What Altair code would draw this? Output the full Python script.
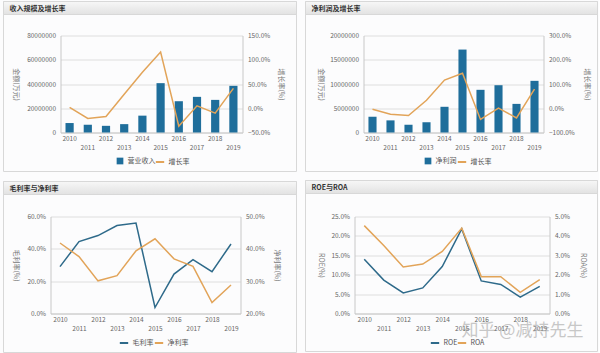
import altair as alt
import pandas as pd

# ---------------- data ----------------
years = [str(y) for y in range(2010, 2020)]
revenue = [7800000, 6400000, 5500000, 6900000, 13900000, 40700000, 25800000, 29400000, 26900000, 38500000]
revenue_growth = [2, -21, -17, 29, 74, 116, -37, 5, -10, 41]
profit = [3250000, 2500000, 1600000, 2100000, 5300000, 17100000, 8800000, 9750000, 5900000, 10650000]
profit_growth = [-4, -25, -30, 33, 116, 144, -46, 1, -40, 79]
gross_margin = [29, 44.5, 48.2, 54.4, 56, 3.7, 24.4, 33.3, 25.9, 43]
net_margin = [41.8, 37.6, 30.1, 31.7, 39.4, 43.1, 36.9, 34.6, 23.4, 28.8]
roe = [14.0, 8.6, 5.3, 6.6, 12.1, 21.8, 8.4, 7.5, 4.2, 7.0]
roa = [4.53, 3.5, 2.4, 2.55, 3.2, 4.4, 1.9, 1.9, 1.09, 1.74]

panel_titles = ["收入规模及增长率", "净利润及增长率", "毛利率与净利率", "ROE与ROA"]
watermark = "知乎 @减持先生"

FONT = "Noto Sans CJK SC"
BLUE = "#1f6e9b"
ORANGE = "#e2a459"
LINEBLUE = "#2e6a8a"
FS = 6.5

XLAB = "toNumber(datum.value) % 2 == 1 ? ['', datum.label] : datum.label"
PCT = "format(datum.value, '.1f') + '%'"

HEAD = alt.Gradient(
    gradient="linear",
    stops=[alt.GradientStop(color="#f7f7f7", offset=0), alt.GradientStop(color="#e2e2e2", offset=1)],
    x1=0, x2=0, y1=0, y2=1,
)


def xenc(rng=None):
    skw = dict(paddingInner=0.55, paddingOuter=0.275)
    if rng is not None:
        skw["range"] = rng
    return alt.X(
        "year:O",
        scale=alt.Scale(**skw),
        axis=alt.Axis(title=None, labelAngle=0, labelExpr=XLAB, labelLineHeight=9,
                      labelPadding=3, ticks=False, grid=False, domain=True),
    )


def frame(title, x1, x2, y1, y2, hh=13):
    one = pd.DataFrame({"t": [title]})
    box = alt.Chart(one).mark_rect(fill="transparent", stroke="#d8d8d8", strokeWidth=1).encode(
        x=alt.value(x1), x2=alt.value(x2), y=alt.value(y1), y2=alt.value(y2))
    head = alt.Chart(one).mark_rect(fill=HEAD, stroke="#d8d8d8", strokeWidth=1).encode(
        x=alt.value(x1), x2=alt.value(x2), y=alt.value(y1), y2=alt.value(y1 + hh))
    txt = alt.Chart(one).mark_text(align="left", baseline="middle", font=FONT, fontSize=7,
                                   fontWeight="bold", color="#333333").encode(
        x=alt.value(x1 + 6), y=alt.value(y1 + hh / 2 + 0.5), text="t:N")
    return [box, head, txt]


def left_axis(title, values, tp, fmt=None, expr=None, offset=0):
    kw = dict(title=title, values=values, titleAngle=90, titlePadding=tp, titleBaseline="top",
              titleAlign="center", grid=True, ticks=False, domain=True, labelPadding=5)
    if offset:
        kw["offset"] = offset
    if fmt:
        kw["format"] = fmt
    if expr:
        kw["labelExpr"] = expr
    return alt.Axis(**kw)


def right_axis(title, values, tp):
    return alt.Axis(title=title, values=values, orient="right", titleAngle=90, titlePadding=tp,
                    titleBaseline="bottom", titleAlign="center", grid=False, ticks=False,
                    domain=True, labelPadding=5, labelExpr=PCT)


def fill_legend(lx):
    return alt.Legend(title=None, orient="none", legendX=lx, legendY=121,
                      symbolType="square", symbolSize=45, labelOffset=3)


def stroke_legend(lx):
    return alt.Legend(title=None, orient="none", legendX=lx, legendY=121,
                      symbolType="stroke", symbolSize=70, symbolStrokeWidth=2, labelOffset=3)


def bar_panel(vals, growth, name, lmax, lvals, rdom, rvals, w, fr, ltp, rtp, lx1, lx2):
    d = pd.DataFrame({"year": years, "v": vals, "g": growth,
                      "s1": [name] * len(years), "s2": ["增长率"] * len(years)})
    bars = alt.Chart(d).mark_bar().encode(
        x=xenc(),
        y=alt.Y("v:Q", scale=alt.Scale(domain=[0, lmax]),
                axis=left_axis("金额(万元)", lvals, ltp, fmt="d")),
        color=alt.Color("s1:N", scale=alt.Scale(range=[BLUE]), legend=fill_legend(lx1)),
    )
    line = alt.Chart(d).mark_line(strokeWidth=1.5).encode(
        x=xenc(),
        y=alt.Y("g:Q", scale=alt.Scale(domain=rdom), axis=right_axis("增长率(%)", rvals, rtp)),
        stroke=alt.Stroke("s2:N", scale=alt.Scale(range=[ORANGE]), legend=stroke_legend(lx2)),
    )
    return alt.layer(*fr, bars, line).resolve_scale(y="independent").properties(width=w, height=97)


def line_panel(v1, v2, n1, n2, ldom, lvals, rdom, rvals, lt, rt, w, fr, ltp, rtp, lx1, lx2,
               rng=None, loff=0, extra=None):
    d = pd.DataFrame({"year": years, "a": v1, "b": v2,
                      "s1": [n1] * len(years), "s2": [n2] * len(years)})
    l1 = alt.Chart(d).mark_line(strokeWidth=1.5).encode(
        x=xenc(rng),
        y=alt.Y("a:Q", scale=alt.Scale(domain=ldom),
                axis=left_axis(lt, lvals, ltp, expr=PCT, offset=loff)),
        stroke=alt.Stroke("s1:N", scale=alt.Scale(range=[LINEBLUE]), legend=stroke_legend(lx1)),
    )
    l2 = alt.Chart(d).mark_line(strokeWidth=1.5).encode(
        x=xenc(rng),
        y=alt.Y("b:Q", scale=alt.Scale(domain=rdom), axis=right_axis(rt, rvals, rtp)),
        color=alt.Color("s2:N", scale=alt.Scale(range=[ORANGE]), legend=stroke_legend(lx2)),
    )
    layers = list(fr) + [l1, l2]
    if extra is not None:
        layers.append(extra)
    return alt.layer(*layers).resolve_scale(y="independent").properties(width=w, height=97)


p1 = bar_panel(revenue, revenue_growth, "营业收入", 80000000,
               [0, 20000000, 40000000, 60000000, 80000000], [-50, 150], [-50, 0, 50, 100, 150],
               182, frame(panel_titles[0], -57, 236, -34, 136), 7, 8, 55, 94)
p2 = bar_panel(profit, profit_growth, "净利润", 20000000,
               [0, 5000000, 10000000, 15000000, 20000000], [-100, 300], [-100, 0, 100, 200, 300],
               180, frame(panel_titles[1], -58, 234, -34, 136), 5, 9, 60, 93)

wm = alt.Chart(pd.DataFrame({"t": [watermark]})).mark_text(
    align="center", baseline="middle", font=FONT, fontSize=17, color="#9c9c9c", opacity=0.55
).encode(x=alt.value(168), y=alt.value(114), text="t:N")

# panel 3: its view starts where panel 1's does; the x range reaches 10 px further left
p3 = line_panel(gross_margin, net_margin, "毛利率", "净利率", [0, 60], [0, 20, 40, 60],
                [20, 50], [20, 30, 40, 50], "毛利率(%)", "净利率(%)", 180,
                frame(panel_titles[2], -57, 236, -35, 136), 7, 9, 58, 93,
                rng=[-10, 180], loff=10)
p4 = line_panel(roe, roa, "ROE", "ROA", [0, 25], [0, 5, 10, 15, 20, 25],
                [0, 5], [0, 1, 2, 3, 4, 5], "ROE(%)", "ROA(%)", 195,
                frame(panel_titles[3], -49, 243, -36, 135), 6, 10, 75, 102, extra=wm)

row1 = alt.hconcat(p1, p2, spacing=7).resolve_scale(color="independent", stroke="independent")
row2 = alt.hconcat(p3, p4, spacing=7).resolve_scale(color="independent", stroke="independent")

chart = alt.vconcat(row1, row2, spacing=7).resolve_scale(
    color="independent", stroke="independent"
).properties(
    padding={"left": 2.5, "top": 0.5, "right": 0, "bottom": 0},
    background="#fcfcfd",
).configure_view(stroke=None).configure_axis(
    labelFont=FONT, labelFontSize=FS, labelColor="#666666",
    titleFont=FONT, titleFontSize=7, titleColor="#777777", titleFontWeight="normal",
    domainColor="#c8c8c8", gridColor="#dedede",
).configure_legend(
    labelFont=FONT, labelFontSize=7, labelColor="#555555",
)

chart.save("out.html", embed_options={"renderer": "svg", "actions": False})
